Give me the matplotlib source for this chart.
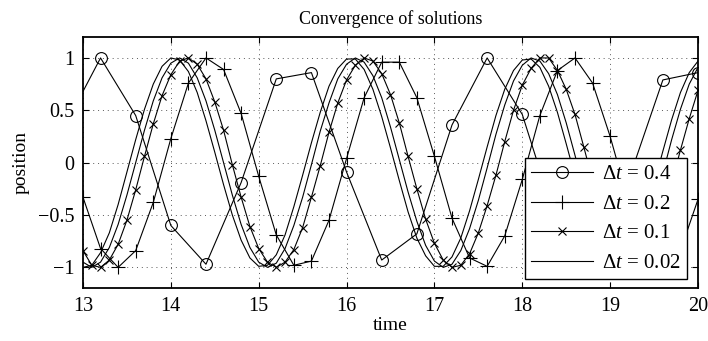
import matplotlib
matplotlib.use("Agg")
import matplotlib.pyplot as plt
import numpy as np

plt.rcParams['font.family'] = ['Liberation Serif', 'DejaVu Serif']
plt.rcParams['mathtext.fontset'] = 'custom'
plt.rcParams['mathtext.rm'] = 'Liberation Serif'
plt.rcParams['mathtext.it'] = 'Liberation Serif:italic'

# dt = 0.4 (circles)
t_04 = [12.8, 13.2, 13.6, 14.0, 14.4, 14.8, 15.2, 15.6, 16.0, 16.4,
        16.8, 17.2, 17.6, 18.0, 18.4, 18.8, 19.2, 19.6, 20.0]
x_04 = [0.36, 1.00, 0.45, -0.60, -0.97, -0.19, 0.80, 0.86, -0.09, -0.93,
        -0.68, 0.36, 1.00, 0.46, -0.60, -0.97, -0.19, 0.79, 0.86]

# dt = 0.2 (plus)
t_02 = [13.0 + 0.2 * i for i in range(36)]
x_02 = [-0.33, -0.82, -1.00, -0.84, -0.38, 0.23, 0.76, 1.00, 0.89, 0.47,
        -0.13, -0.69, -0.98, -0.94, -0.55, 0.04, 0.62, 0.96, 0.96, 0.62,
        0.06, -0.53, -0.91, -0.99, -0.70, -0.16, 0.45, 0.88, 1.00, 0.76,
        0.25, -0.35, -0.82, -1.00, -0.84, -0.35]

# dt = 0.1 (x)
t_01 = [13.0 + 0.1 * i for i in range(71)]
x_01 = [-0.84, -0.98, -1.00, -0.93, -0.78, -0.55, -0.26, 0.06, 0.37, 0.64,
        0.84, 0.97, 1.00, 0.94, 0.80, 0.58, 0.31, -0.02, -0.33, -0.61,
        -0.82, -0.95, -1.00, -0.95, -0.83, -0.62, -0.33, -0.03, 0.29, 0.57,
        0.79, 0.93, 1.00, 0.97, 0.85, 0.65, 0.38, 0.06, -0.25, -0.54,
        -0.77, -0.93, -1.00, -0.98, -0.87, -0.67, -0.41, -0.12, 0.20, 0.50,
        0.74, 0.90, 1.00, 1.00, 0.88, 0.70, 0.46, 0.15, -0.17, -0.46,
        -0.71, -0.88, -0.98, -0.99, -0.91, -0.74, -0.49, -0.19, 0.12, 0.42,
        0.69]

# dt = 0.02 (plain line), read every 0.1
t_002 = [13.0 + 0.1 * i for i in range(71)]
x_002 = [-0.95, -1.00, -0.95, -0.81, -0.59, -0.31, 0.00, 0.31, 0.59, 0.81,
         0.95, 1.00, 0.95, 0.81, 0.59, 0.31, 0.00, -0.31, -0.59, -0.81,
         -0.95, -1.00, -0.96, -0.82, -0.60, -0.33, -0.02, 0.30, 0.57, 0.80,
         0.94, 1.00, 0.96, 0.83, 0.62, 0.34, 0.03, -0.28, -0.56, -0.79,
         -0.94, -1.00, -0.97, -0.84, -0.63, -0.36, -0.05, 0.27, 0.55, 0.78,
         0.93, 1.00, 0.97, 0.85, 0.65, 0.38, 0.07, -0.25, -0.53, -0.76,
         -0.92, -0.99, -0.98, -0.87, -0.67, -0.41, -0.10, 0.22, 0.51, 0.75,
         0.91]

# extra reference curve (no legend entry)
t_ref = [13.0 + 0.1 * i for i in range(71)]
x_ref = [-1.00, -0.98, -0.86, -0.67, -0.40, -0.09, 0.22, 0.51, 0.75, 0.92,
         1.00, 0.98, 0.87, 0.67, 0.40, 0.10, -0.21, -0.50, -0.74, -0.91,
         -0.99, -0.98, -0.88, -0.69, -0.42, -0.12, 0.19, 0.48, 0.73, 0.90,
         0.99, 0.99, 0.89, 0.70, 0.44, 0.14, -0.17, -0.47, -0.72, -0.89,
         -0.99, -0.99, -0.90, -0.72, -0.46, -0.16, 0.15, 0.45, 0.70, 0.88,
         0.98, 0.99, 0.91, 0.73, 0.48, 0.18, -0.13, -0.43, -0.69, -0.87,
         -0.98, -1.00, -0.92, -0.75, -0.50, -0.20, 0.11, 0.41, 0.67, 0.86,
         0.97]

fig = plt.figure(figsize=(7.08, 3.41), dpi=100)
ax = fig.add_axes([0.1172, 0.1545, 0.8687, 0.737])

lw = 0.8
ax.plot(t_04, x_04, 'k-', marker='o', ms=8.5, mfc='none', mew=0.8, lw=lw, label=r'$\Delta t$ = 0.4')
ax.plot(t_02, x_02, 'k-', marker='+', ms=9.5, mew=0.8, lw=lw, label=r'$\Delta t$ = 0.2')
ax.plot(t_01, x_01, 'k-', marker='x', ms=5.5, mew=0.8, lw=lw, label=r'$\Delta t$ = 0.1')
ax.plot(t_002, x_002, 'k-', lw=lw, label=r'$\Delta t$ = 0.02')
ax.plot(t_ref, x_ref, 'k-', lw=lw)

ax.set_xlim(13, 20)
ax.set_ylim(-1.2, 1.2)
ax.set_xticks(range(13, 21))
ax.set_yticks([-1, -0.5, 0, 0.5, 1])
ax.set_yticklabels(['\u22121', '\u22120.5', '0', '0.5', '1'])
ax.grid(True, linestyle=(0, (1, 4)), color='0.35', lw=0.7)
ax.tick_params(direction='in', top=True, right=True, labelsize=14.5, length=4, width=0.8, pad=6)
for s in ax.spines.values():
    s.set_linewidth(1.3)

ax.set_title('Convergence of solutions', fontsize=13, pad=9)
ax.set_xlabel('time', fontsize=14, labelpad=1)
ax.set_ylabel('position', fontsize=14, labelpad=6)

leg = ax.legend(loc='lower right', bbox_to_anchor=(0.9816, 0.0358), borderaxespad=0,
                fontsize=15, numpoints=1, handlelength=3.0, fancybox=False,
                framealpha=1, edgecolor='k', labelspacing=0.48, borderpad=0.3,
                handletextpad=0.4)
leg.get_frame().set_linewidth(1.0)

fig.savefig('out.png', dpi=100)
